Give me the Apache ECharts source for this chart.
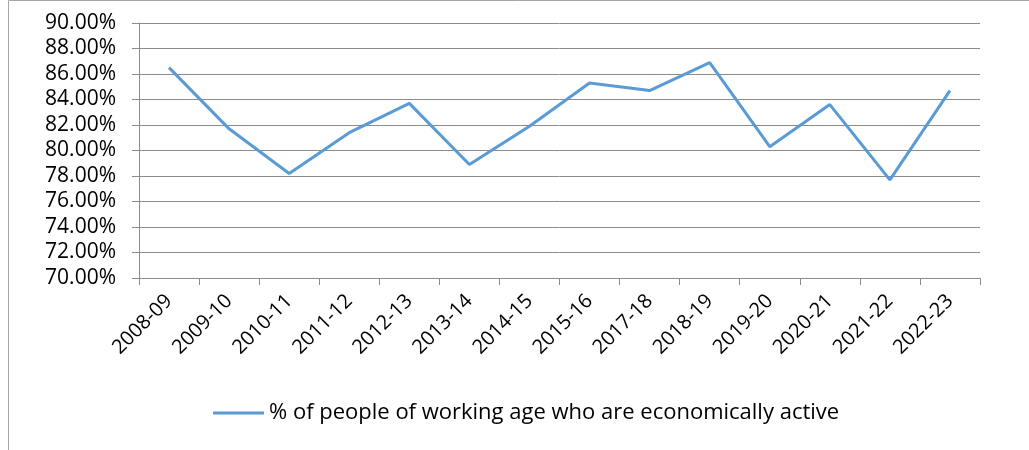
<!DOCTYPE html>
<html>
<head>
<meta charset="utf-8">
<script src="https://cdn.jsdelivr.net/npm/echarts@6/dist/echarts.min.js"></script>
<style>
  html, body { margin: 0; padding: 0; background: #fff; }
  #chart { width: 1029px; height: 450px; }
</style>
</head>
<body>
<div id="chart"></div>
<script>
const years = ['2008-09', '2009-10', '2010-11', '2011-12', '2012-13', '2013-14', '2014-15',
  '2015-16', '2017-18', '2018-19', '2019-20', '2020-21', '2021-22', '2022-23'];
const activeRate = [86.5, 81.7, 78.2, 81.4, 83.7, 78.9, 81.9, 85.3, 84.7, 86.9, 80.3, 83.6, 77.7, 84.7];
const seriesName = '% of people of working age who are economically active';

const chart = echarts.init(document.getElementById('chart'));
const gray = '#8c8c8c';
const font = 'Open Sans';

chart.setOption({
  animation: false,
  textStyle: { fontFamily: font },
  grid: { left: 139, right: 49, top: 23, bottom: 172 },
  graphic: [
    {
      type: 'polyline',
      shape: { points: [[8.5, 450], [8.5, 0.5], [1029, 0.5]] },
      style: { stroke: '#a6a6a6', lineWidth: 1, fill: null }
    }
  ],
  legend: {
    top: 397,
    left: 208,
    icon: 'rect',
    itemWidth: 51,
    itemHeight: 3,
    textStyle: { fontFamily: font, fontSize: 22, color: '#000' },
    data: [seriesName]
  },
  xAxis: {
    type: 'category',
    data: years,
    boundaryGap: true,
    axisLine: { lineStyle: { color: gray } },
    axisTick: { show: true, length: 7, lineStyle: { color: gray } },
    axisLabel: { rotate: 45, margin: 20, fontSize: 20, color: '#000', fontFamily: font, interval: 0 }
  },
  yAxis: {
    type: 'value',
    min: 70,
    max: 90,
    interval: 2,
    axisLine: { show: true, lineStyle: { color: gray } },
    axisTick: { show: true, length: 7, lineStyle: { color: gray } },
    splitLine: { lineStyle: { color: gray } },
    axisLabel: {
      fontSize: 21, color: '#000', fontFamily: font, margin: 23,
      formatter: v => v.toFixed(2) + '%'
    }
  },
  series: [
    {
      name: seriesName,
      type: 'line',
      data: activeRate,
      symbol: 'none',
      lineStyle: { color: '#5b9bd5', width: 3 },
      itemStyle: { color: '#5b9bd5' }
    }
  ]
});
</script>
</body>
</html>
